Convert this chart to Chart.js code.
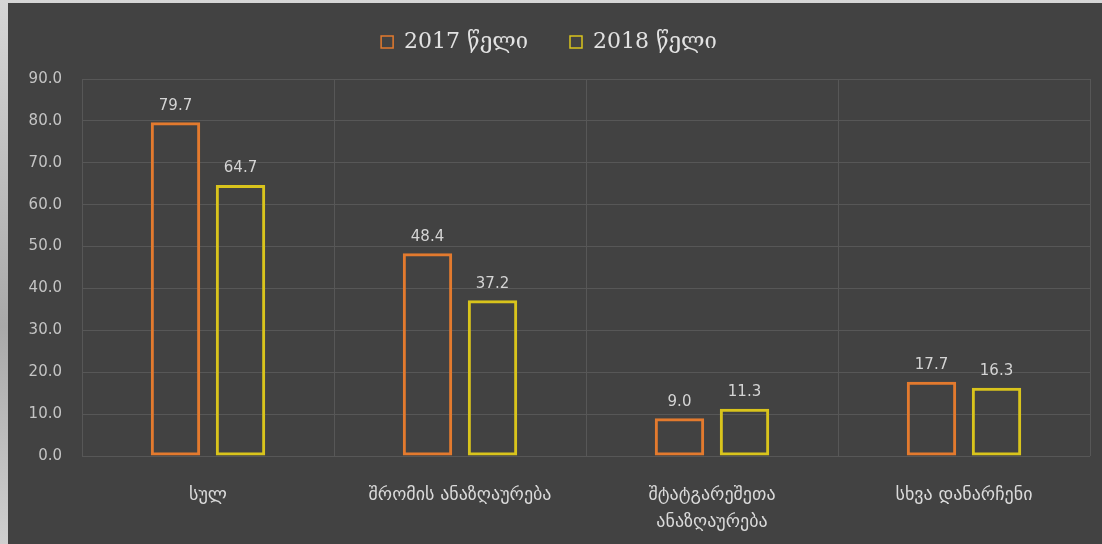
<!DOCTYPE html>
<html>
<head>
<meta charset="utf-8">
<script src="https://cdn.jsdelivr.net/npm/chart.js@4/dist/chart.umd.min.js"></script>
<style>
    html, body { margin: 0; padding: 0; }
    body {
        width: 1102px;
        height: 544px;
        overflow: hidden;
        background: linear-gradient(180deg, #d6d6d6, #a9a9a9 60%, #cfcfcf);
        position: relative;
    }
    #wrap {
        position: absolute;
        left: 8px;
        top: 3px;
        width: 1094px;
        height: 541px;
        background: #424242;
    }
</style>
</head>
<body>
<div id="wrap"><canvas id="myChart" width="1094" height="541"></canvas></div>
<script>
const categories = ['სულ', 'შრომის ანაზღაურება', ['შტატგარეშეთა', 'ანაზღაურება'], 'სხვა დანარჩენი'];
const series2017 = [79.7, 48.4, 9.0, 17.7];
const series2018 = [64.7, 37.2, 11.3, 16.3];
const seriesNames = ['2017 წელი', '2018 წელი'];
const yTicks = [0, 10, 20, 30, 40, 50, 60, 70, 80, 90];

// values above bars
const barLabels = {
    id: 'barLabels',
    afterDatasetsDraw(chart) {
        const ctx = chart.ctx;
        ctx.save();
        ctx.fillStyle = '#d4d4d4';
        ctx.font = '15px "DejaVu Sans", sans-serif';
        ctx.textAlign = 'center';
        ctx.textBaseline = 'bottom';
        chart.data.datasets.forEach((ds, i) => {
            chart.getDatasetMeta(i).data.forEach((bar, j) => {
                ctx.fillText(ds.data[j].toFixed(1), bar.x, bar.y - 9);
            });
        });
        ctx.restore();
    }
};

// push the plot down without moving the legend
const legendSpace = {
    id: 'legendSpace',
    beforeInit(chart) {
        const fit = chart.legend.fit;
        chart.legend.fit = function () {
            fit.bind(chart.legend)();
            this.height += 16;
        };
    }
};

const ctx = document.getElementById('myChart');
new Chart(ctx, {
    type: 'bar',
    data: {
        labels: categories,
        datasets: [{
            label: seriesNames[0],
            data: series2017,
            backgroundColor: 'rgba(0, 0, 0, 0)',
            borderColor: '#e37a2e',
            borderWidth: 3,
            borderSkipped: false
        }, {
            label: seriesNames[1],
            data: series2018,
            backgroundColor: 'rgba(0, 0, 0, 0)',
            borderColor: '#d9c41c',
            borderWidth: 3,
            borderSkipped: false
        }]
    },
    options: {
        responsive: false,
        animation: false,
        categoryPercentage: 0.516,
        barPercentage: 0.76,
        layout: {
            padding: { top: -14, right: 12, left: 0, bottom: 0 }
        },
        plugins: {
            tooltip: { enabled: false },
            legend: {
                display: true,
                labels: {
                    color: '#e2e2e2',
                    font: { family: '"DejaVu Serif", serif', size: 22 },
                    usePointStyle: true,
                    pointStyle: 'rect',
                    boxWidth: 12,
                    boxHeight: 12,
                    padding: 42,
                    generateLabels: chart => Chart.defaults.plugins.legend.labels.generateLabels(chart)
                        .map(l => Object.assign(l, { lineWidth: 1.5 }))
                }
            }
        },
        scales: {
            x: {
                offset: true,
                grid: {
                    color: '#575757',
                    drawTicks: false,
                    offset: true
                },
                border: { display: false },
                ticks: {
                    color: '#dadada',
                    padding: 26,
                    font: { family: '"DejaVu Sans", sans-serif', size: 18, lineHeight: 1.5 }
                },
                afterFit: s => { s.height = 88; }
            },
            y: {
                min: 0,
                max: 90,
                afterBuildTicks: s => { s.ticks = yTicks.map(v => ({ value: v })); },
                grid: {
                    color: '#575757',
                    drawTicks: false
                },
                border: { display: false },
                ticks: {
                    color: '#c4c4c4',
                    padding: 20,
                    font: { family: '"DejaVu Sans", sans-serif', size: 15 },
                    callback: v => v.toFixed(1)
                },
                afterFit: s => { s.width = 74; }
            }
        }
    },
    plugins: [barLabels, legendSpace]
});
</script>
</body>
</html>
